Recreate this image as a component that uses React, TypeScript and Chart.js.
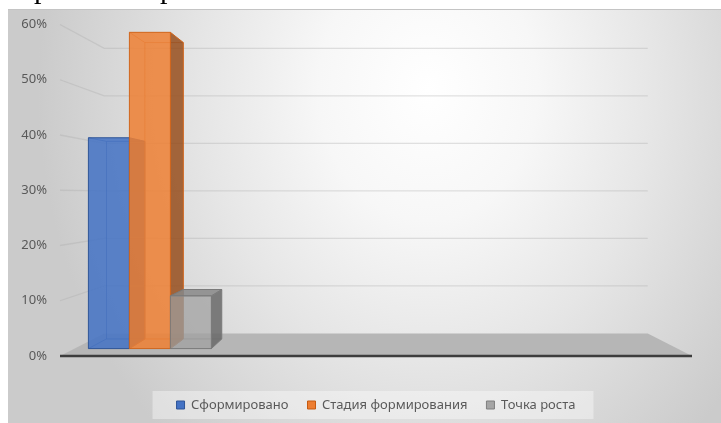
import React, { useEffect, useRef } from "react";
import { Chart, registerables } from "chart.js";

Chart.register(...registerables);

// ---- data ----
const CATEGORIES = ["", "", "", ""];
const SERIES_NAMES = ["Сформировано", "Стадия формирования", "Точка роста"];
const FORMED = [0.4];
const FORMING = [0.6];
const GROWTH_POINT = [0.1];
const Y_TICK_LABELS = ["0%", "10%", "20%", "30%", "40%", "50%", "60%"];

const FONT = "'Noto Sans', 'Open Sans', sans-serif";

// perspective view: vanishing height (fraction of plot), depth scales
const VIEW = { vanishY: 0.514, barFront: 0.954, barBack: 0.894, wall: 0.86 };

type Face = { front: string; side: string; top: string; edge: string; hidden: string };
const FACES: Face[] = [
  { front: "rgba(68,114,196,0.86)", side: "rgba(40,72,130,0.85)", top: "rgba(100,140,210,0.9)", edge: "#2f5597", hidden: "rgba(40,75,140,0.55)" },
  { front: "rgba(238,128,52,0.86)", side: "rgba(150,78,28,0.85)", top: "rgba(245,150,90,0.9)", edge: "#d0651c", hidden: "rgba(190,90,25,0.6)" },
  { front: "rgba(160,160,160,0.72)", side: "rgba(105,105,105,0.85)", top: "rgba(135,135,135,0.85)", edge: "#7a7a7a", hidden: "rgba(110,110,110,0.55)" },
];

type V = { vx: number; vy: number; left: number; right: number };

function getView(chart: any): V {
  const a = chart.chartArea;
  return {
    vx: (a.left + a.right) / 2,
    vy: a.top + VIEW.vanishY * (a.bottom - a.top),
    left: a.left,
    right: a.right,
  };
}

function proj(v: V, x: number, y: number, s: number): [number, number] {
  return [v.vx + s * (x - v.vx), v.vy + s * (y - v.vy)];
}

function poly(ctx: CanvasRenderingContext2D, pts: [number, number][], fill?: string, stroke?: string, lw = 1) {
  ctx.beginPath();
  pts.forEach((p, i) => (i ? ctx.lineTo(p[0], p[1]) : ctx.moveTo(p[0], p[1])));
  ctx.closePath();
  if (fill) {
    ctx.fillStyle = fill;
    ctx.fill();
  }
  if (stroke) {
    ctx.strokeStyle = stroke;
    ctx.lineWidth = lw;
    ctx.stroke();
  }
}

function seg(ctx: CanvasRenderingContext2D, a: [number, number], b: [number, number]) {
  ctx.beginPath();
  ctx.moveTo(a[0], a[1]);
  ctx.lineTo(b[0], b[1]);
  ctx.stroke();
}

function drawBar(ctx: CanvasRenderingContext2D, el: any, f: Face, v: V) {
  const { x, y, base, width } = el.getProps(["x", "y", "base", "width"], true);
  const x0 = x - width / 2;
  const x1 = x + width / 2;
  const s1 = VIEW.barFront;
  const s2 = VIEW.barBack;
  const A = proj(v, x0, y, s1), B = proj(v, x1, y, s1), C = proj(v, x1, base, s1), D = proj(v, x0, base, s1);
  const A2 = proj(v, x0, y, s2), B2 = proj(v, x1, y, s2), C2 = proj(v, x1, base, s2), D2 = proj(v, x0, base, s2);

  ctx.save();
  ctx.strokeStyle = f.hidden;
  ctx.lineWidth = 1;
  seg(ctx, A2, B2);
  seg(ctx, A2, D2);
  seg(ctx, D2, C2);
  seg(ctx, A, A2);
  seg(ctx, D, D2);

  if (B[0] < v.vx) poly(ctx, [B, B2, C2, C], f.side, f.edge);
  else poly(ctx, [A, A2, D2, D], f.side, f.edge);
  if (A[1] > v.vy) poly(ctx, [A, B, B2, A2], f.top, f.edge);
  poly(ctx, [A, B, C, D], f.front, f.edge);
  ctx.restore();
}

const threeD = {
  id: "threeD",
  beforeDraw(chart: any) {
    const lg = chart.legend;
    if (!lg || !lg.legendHitBoxes || !lg.legendHitBoxes.length) return;
    const hb = lg.legendHitBoxes;
    const first = hb[0];
    const last = hb[hb.length - 1];
    const cy = first.top + first.height / 2;
    const left = first.left - 24;
    const right = last.left + last.width + 18;
    const ctx = chart.ctx;
    ctx.save();
    ctx.fillStyle = "rgba(255,255,255,0.38)";
    ctx.fillRect(left, cy - 14, right - left, 28);
    ctx.restore();
  },
  beforeDatasetsDraw(chart: any) {
    const ctx: CanvasRenderingContext2D = chart.ctx;
    const ys = chart.scales.y;
    const v = getView(chart);
    ctx.save();
    ctx.strokeStyle = "rgba(170,170,170,0.34)";
    ctx.lineWidth = 1.3;
    ys.ticks.forEach((t: any) => {
      if (t.value <= 0) return;
      const yf = ys.getPixelForValue(t.value);
      const p1 = proj(v, v.left, yf, 1);
      const p2 = proj(v, v.left, yf, VIEW.wall);
      const p3 = proj(v, v.right, yf, VIEW.wall);
      ctx.beginPath();
      ctx.moveTo(p1[0], p1[1]);
      ctx.lineTo(p2[0], p2[1]);
      ctx.lineTo(p3[0], p3[1]);
      ctx.stroke();
    });
    const y0 = ys.getPixelForValue(0);
    poly(ctx, [proj(v, v.left, y0, 1), proj(v, v.right, y0, 1), proj(v, v.right, y0, VIEW.wall), proj(v, v.left, y0, VIEW.wall)], "#b6b6b6");
    ctx.strokeStyle = "#3d3d3d";
    ctx.lineWidth = 2.5;
    seg(ctx, proj(v, v.left, y0, 1), proj(v, v.right, y0, 1));
    ctx.restore();
  },
  beforeDatasetDraw() {
    return false;
  },
  afterDatasetsDraw(chart: any) {
    const ctx: CanvasRenderingContext2D = chart.ctx;
    const v = getView(chart);
    chart.data.datasets.forEach((_: any, i: number) => {
      const meta = chart.getDatasetMeta(i);
      meta.data.forEach((el: any) => drawBar(ctx, el, FACES[i], v));
    });
  },
};

export default function App() {
  const ref = useRef<HTMLCanvasElement | null>(null);

  useEffect(() => {
    if (!ref.current) return;
    const chart = new Chart(ref.current, {
      type: "bar",
      data: {
        labels: CATEGORIES,
        datasets: [
          { label: SERIES_NAMES[0], data: FORMED, backgroundColor: "#4472C4", borderColor: "#2F5597", borderWidth: 1 },
          { label: SERIES_NAMES[1], data: FORMING, backgroundColor: "#ED7D31", borderColor: "#C55A11", borderWidth: 1 },
          { label: SERIES_NAMES[2], data: GROWTH_POINT, backgroundColor: "#A5A5A5", borderColor: "#7F7F7F", borderWidth: 1 },
        ],
      },
      options: {
        animation: false,
        responsive: true,
        maintainAspectRatio: false,
        events: [],
        layout: { padding: { left: 0, right: 29, top: 15.5, bottom: 1.5 } },
        datasets: { bar: { categoryPercentage: 0.816, barPercentage: 1 } },
        scales: {
          x: {
            display: true,
            grid: { display: false, drawTicks: false },
            border: { display: false },
            ticks: { display: false },
            afterFit: (s: any) => {
              s.height = 23.5;
            },
          },
          y: {
            min: 0,
            max: 0.6,
            grid: { display: false, drawTicks: false },
            border: { display: false },
            ticks: {
              stepSize: 0.1,
              padding: 13,
              color: "#595959",
              font: { family: FONT, size: 13 },
              callback: (_v: any, i: number) => Y_TICK_LABELS[i],
            },
            afterFit: (s: any) => {
              s.width = 52;
              s.paddingTop = 8;
              s.paddingBottom = 8;
            },
          },
        },
        plugins: {
          tooltip: { enabled: false },
          legend: {
            position: "bottom",
            fullSize: false,
            labels: {
              boxWidth: 8,
              boxHeight: 8,
              padding: 19,
              color: "#595959",
              font: { family: FONT, size: 13 },
            },
          },
        },
      },
      plugins: [threeD],
    });
    return () => chart.destroy();
  }, []);

  const glyph: React.CSSProperties = {
    position: "fixed",
    top: -26.6,
    font: "30px 'Liberation Serif', serif",
    lineHeight: "30px",
    color: "#000",
  };

  return (
    <>
      <span style={{ ...glyph, left: 34 }}>р</span>
      <span style={{ ...glyph, left: 160 }}>р</span>
      <div
        style={{
          position: "fixed",
          left: 8,
          top: 9,
          width: 713,
          height: 414,
          background:
            "radial-gradient(ellipse 390px 470px at 420px 80px, #ffffff 0%, #f7f7f7 28%, #e6e6e6 58%, #d4d4d4 86%, #cbcbcb 100%)",
          boxShadow: "inset 0 1px 0 #c4c4c4",
        }}
      >
        <canvas ref={ref} />
      </div>
    </>
  );
}
